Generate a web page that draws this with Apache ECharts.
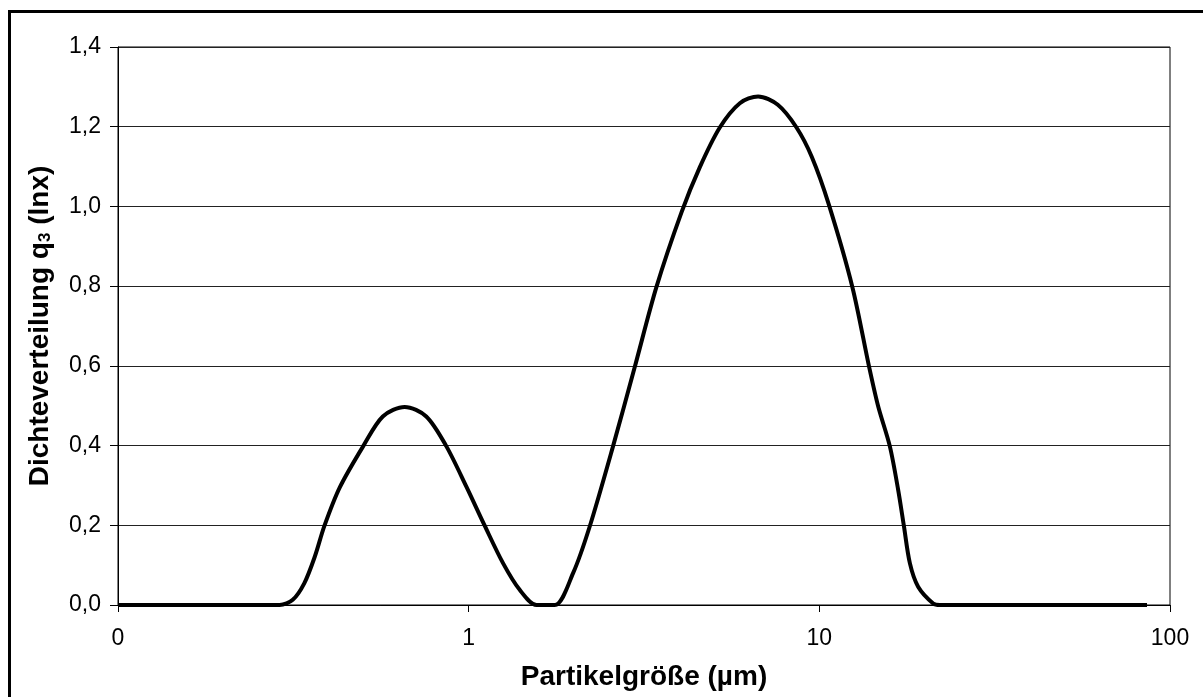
<!DOCTYPE html>
<html>
<head>
<meta charset="utf-8">
<script src="https://cdn.jsdelivr.net/npm/echarts@6/dist/echarts.min.js"></script>
<style>
  html, body { margin: 0; padding: 0; background: #fff; overflow: hidden; }
  #chart { width: 1203px; height: 697px; }
</style>
</head>
<body>
<div id="chart"></div>
<script>
// particle size (µm), log axis
var sizes = [0.1, 0.17, 0.27, 0.289, 0.315, 0.34, 0.364, 0.388, 0.429, 0.5, 0.569, 0.657,
    0.757, 0.864, 0.985, 1.111, 1.253, 1.398, 1.561, 1.76, 1.985, 2.214, 2.58, 2.976,
    3.432, 4.045, 4.56, 5.202, 5.933, 6.69, 7.613, 8.608, 9.52, 10.64, 12.42, 13.87,
    14.72, 15.89, 16.78, 17.42, 18.12, 19.13, 21.12, 22.07, 86];
// density q3(lnx)
var q3 = [0, 0, 0, 0, 0.013, 0.055, 0.121, 0.199, 0.295, 0.398, 0.473, 0.497,
    0.473, 0.398, 0.297, 0.199, 0.105, 0.038, 0, 0, 0.08, 0.197, 0.398, 0.597,
    0.798, 0.985, 1.098, 1.198, 1.259, 1.276, 1.255, 1.198, 1.124, 1.005, 0.798, 0.597,
    0.498, 0.398, 0.289, 0.199, 0.105, 0.046, 0.004, 0, 0];
var xTicks = [0.1, 1, 10, 100];
var yTicks = [0, 0.2, 0.4, 0.6, 0.8, 1.0, 1.2, 1.4];

var font = '"Liberation Sans", Arial, sans-serif';
var chart = echarts.init(document.getElementById('chart'));

var points = sizes.map(function (s, i) { return [s, q3[i]]; });

var option = {
    animation: false,
    backgroundColor: '#fff',
    grid: {
        left: 118,
        right: 33,
        top: 47,
        bottom: 92,
        show: true,
        borderColor: '#000',
        borderWidth: 1
    },
    graphic: [
        {
            // frame of the chart area, cut by the picture on the right and bottom
            type: 'polyline',
            shape: { points: [[9.5, 900], [9.5, 11.5], [1400, 11.5]] },
            style: { fill: 'none', stroke: '#000', lineWidth: 3 },
            silent: true
        }
    ],
    xAxis: {
        type: 'log',
        logBase: 10,
        min: xTicks[0],
        max: xTicks[xTicks.length - 1],
        name: 'Partikelgröße (µm)',
        nameLocation: 'middle',
        nameGap: 58,
        nameTextStyle: { fontFamily: font, fontSize: 28, fontWeight: 'bold', color: '#000' },
        axisLine: { lineStyle: { color: '#000', width: 1 } },
        axisTick: { show: true, length: 7, lineStyle: { color: '#000' } },
        minorTick: { show: false },
        splitLine: { show: false },
        axisLabel: {
            fontFamily: font,
            fontSize: 23,
            color: '#000',
            margin: 22,
            formatter: function (v) { return v < 1 ? '0' : String(Math.round(v)); }
        }
    },
    yAxis: {
        type: 'value',
        min: yTicks[0],
        max: yTicks[yTicks.length - 1],
        interval: 0.2,
        name: 'Dichteverteilung q{sub|3} (lnx)',
        nameLocation: 'middle',
        nameGap: 64,
        nameTextStyle: {
            fontFamily: font, fontSize: 28, fontWeight: 'bold', color: '#000',
            rich: {
                sub: { fontFamily: font, fontSize: 17, fontWeight: 'bold', color: '#000', lineHeight: 12, verticalAlign: 'bottom' }
            }
        },
        axisLine: { show: true, lineStyle: { color: '#000', width: 1 } },
        axisTick: { show: true, length: 8, lineStyle: { color: '#000' } },
        splitLine: { show: true, lineStyle: { color: '#222', width: 1 } },
        axisLabel: {
            fontFamily: font,
            fontSize: 23,
            color: '#000',
            margin: 17,
            formatter: function (v) { return v.toFixed(1).replace('.', ','); }
        }
    },
    series: [
        {
            type: 'line',
            data: points,
            smooth: 0.3,
            showSymbol: false,
            lineStyle: { color: '#000', width: 4 }
        }
    ]
};
chart.setOption(option);
</script>
</body>
</html>
